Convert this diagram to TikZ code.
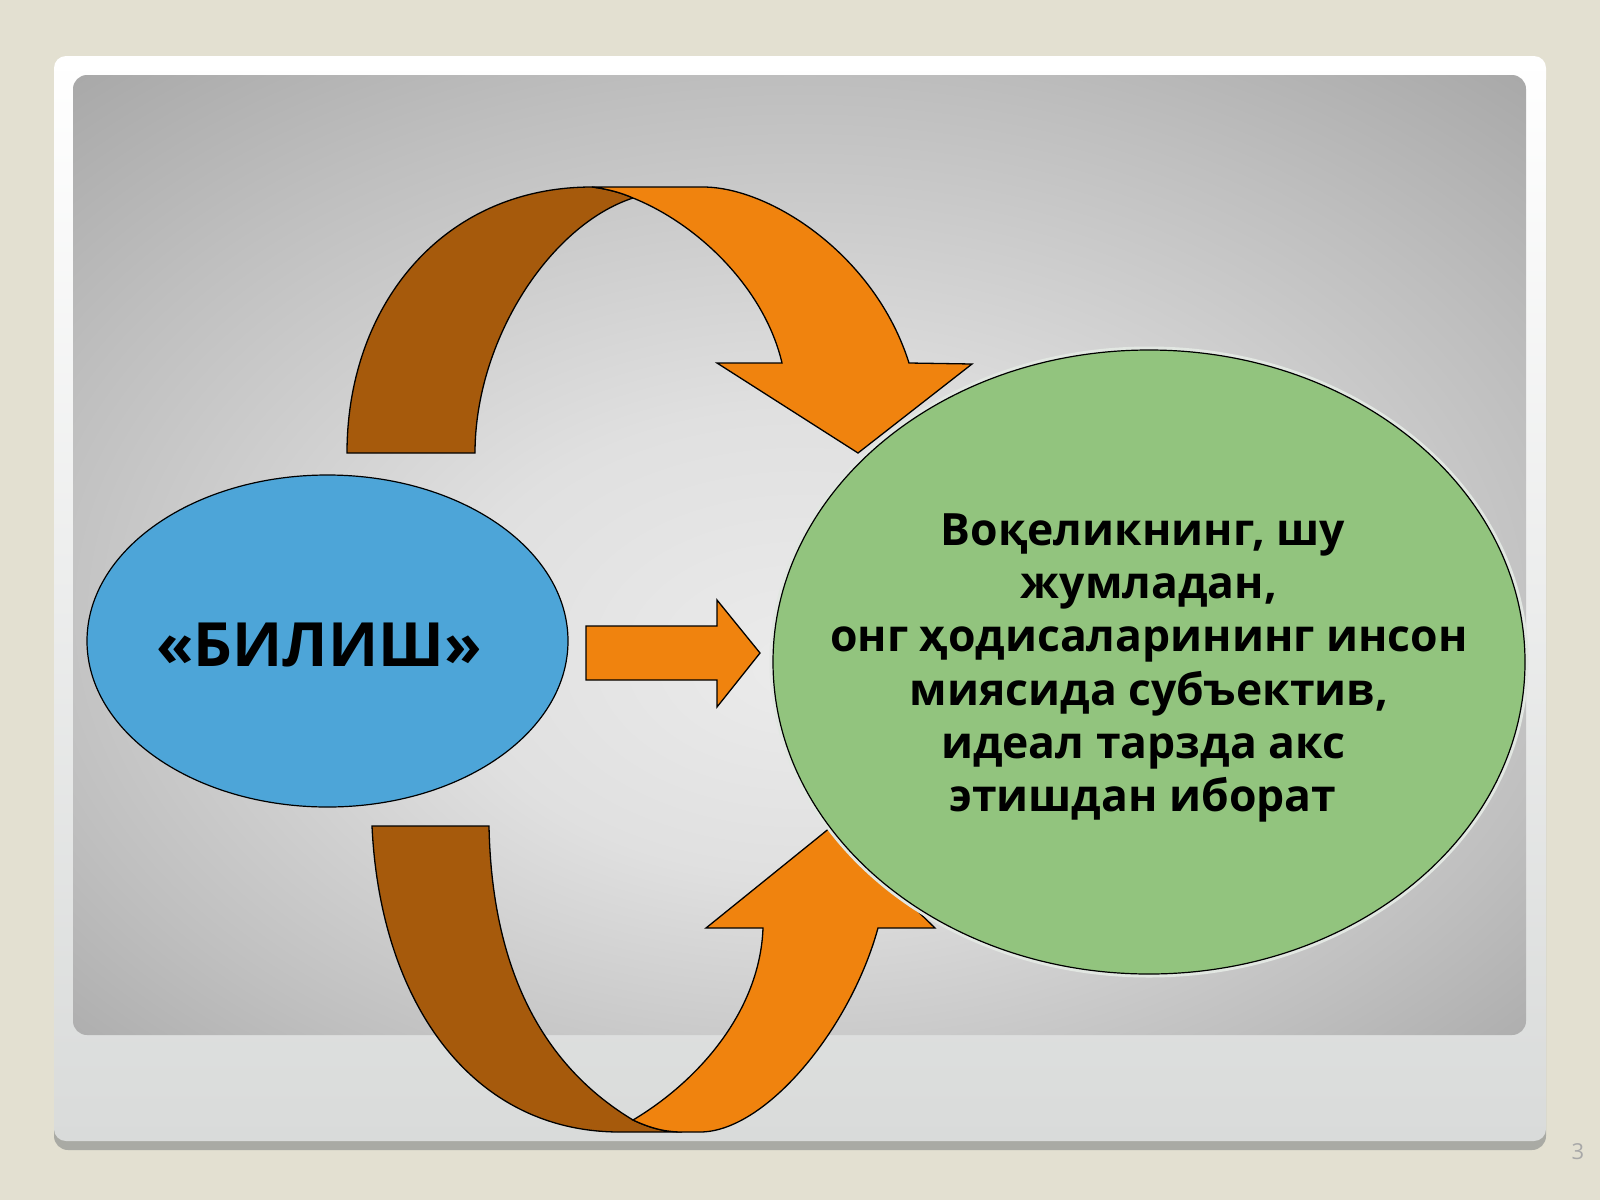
\documentclass[tikz,border=0pt]{standalone}
\usepackage{fontspec}
\setmainfont{Open Sans}
\usetikzlibrary{shapes.geometric}
\definecolor{bgbeige}{HTML}{E3E0D1}
\definecolor{framebot}{HTML}{D9DBDA}
\definecolor{shadowc}{HTML}{A9AAA4}
\definecolor{pc0}{HTML}{EBEBEB}
\definecolor{pc1}{HTML}{E0E0E0}
\definecolor{pc2}{HTML}{BFBFBF}
\definecolor{pc3}{HTML}{A5A5A5}
\definecolor{orangec}{HTML}{F0830E}
\definecolor{darkor}{HTML}{A65A0C}
\definecolor{greenc}{HTML}{92C47E}
\definecolor{bluec}{HTML}{4DA5D8}
\definecolor{haloc}{HTML}{E2E7E2}
\definecolor{pagenum}{HTML}{A8A8A8}
\pgfdeclareradialshading{panelshade}{\pgfpoint{0bp}{-6bp}}{color(0bp)=(pc0); color(12bp)=(pc1); color(27bp)=(pc2); color(38bp)=(pc3); color(50bp)=(pc3)}
\begin{document}
\begin{tikzpicture}[x=1pt,y=-1pt,
  band/.style={draw=black, line width=1.3pt, line join=miter},
  blueell/.style={ellipse, draw=black, line width=1.2pt, fill=bluec, inner sep=0pt, minimum width=481pt, minimum height=332pt},
  greenell/.style={ellipse, draw=black, line width=1.2pt, fill=greenc, inner sep=0pt, minimum width=752pt, minimum height=624pt,
     preaction={draw=haloc, line width=7pt}},
  bigtext/.style={font=\bfseries\fontsize{61}{72}\selectfont, text=black, inner sep=0pt},
  bodytext/.style={font=\bfseries\fontsize{44.5}{53.3}\selectfont, text=black, align=center, inner sep=0pt}
]
\useasboundingbox (0,0) rectangle (1600,1200);
% background
\fill[bgbeige] (0,0) rectangle (1600,1200);
% frame shadow and frame
\fill[shadowc, rounded corners=14pt] (54,66) rectangle (1546,1150);
\shade[top color=white, bottom color=framebot, rounded corners=12pt] (54,56) rectangle (1546,1141);
% inner panel
\shade[shading=panelshade, rounded corners=14pt] (73,75) rectangle (1526,1035);
% top curved arrow
\filldraw[band, fill=darkor] (347,453) .. controls (347,306) and (442,187) .. (592,187)
  .. controls (608,189) and (622,193) .. (633,198)
  .. controls (550,225) and (475,340) .. (475,453) -- cycle;
\filldraw[band, fill=orangec] (592,187) -- (703,187) .. controls (770,187) and (875,255) .. (909,363)
  -- (972,364) -- (858,453) -- (717,363) -- (782,363)
  .. controls (765,290) and (700,225) .. (633,198)
  .. controls (622,193) and (608,189) .. (592,187) -- cycle;
% bottom curved arrow
\filldraw[band, fill=darkor] (372,826) -- (489,826) .. controls (492,980) and (550,1070) .. (633,1120)
  .. controls (650,1128) and (665,1132) .. (682,1132) -- (620,1132)
  .. controls (470,1132) and (380,1000) .. (372,826) -- cycle;
\filldraw[band, fill=orangec] (633,1120) .. controls (650,1128) and (665,1132) .. (682,1132)
  -- (700,1132) .. controls (765,1132) and (850,1030) .. (878,928)
  -- (935,928) -- (831,827) -- (706,928) -- (763,928)
  .. controls (760,1010) and (700,1080) .. (633,1120) -- cycle;
% middle arrow
\filldraw[band, fill=orangec] (586,626) -- (717,626) -- (717,600) -- (760,653) -- (717,707) -- (717,680) -- (586,680) -- cycle;
% ellipses
\node[blueell] (bil) at (327.5,641) {};
\node[greenell] (ong) at (1149,662) {};
% texts
\node[bigtext] (biltext) at (319,645) {«БИЛИШ»};
\node[bodytext] (ongtext) at (1143,668) {Воқеликнинг, шу\\\hspace*{12pt}жумладан,\\\hspace*{12pt}онг ҳодисаларининг инсон\\\hspace*{12pt}миясида субъектив,\\идеал тарзда акс\\этишдан иборат};
\node[text=pagenum, font=\fontsize{22}{26}\selectfont, inner sep=0pt] (pg) at (1578,1152) {3};
\end{tikzpicture}
\end{document}
